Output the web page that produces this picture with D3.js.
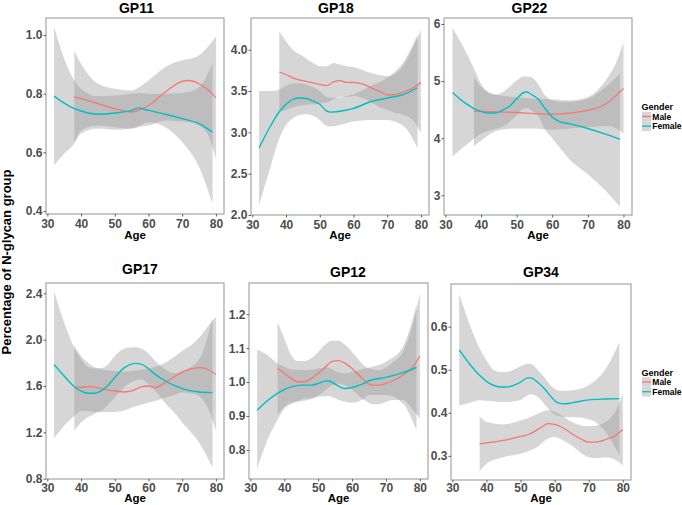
<!DOCTYPE html>
<html><head><meta charset="utf-8">
<script src="https://cdn.jsdelivr.net/npm/d3@7"></script>
<style>html,body{margin:0;padding:0;background:#fff;}svg{display:block;}</style>
</head><body>
<svg id="chart" width="682" height="505"></svg>
<script>
// ---------- data ----------
const xTicks = [30, 40, 50, 60, 70, 80];
const genders = ["Male", "Female"];
const panelTitles = ["GP11", "GP18", "GP22", "GP17", "GP12", "GP34"];

// GP11
const gp11MaleAge = [38,40,45,50,55,58,60,65,70,72,75,78,80];
const gp11Male    = [0.789,0.783,0.766,0.749,0.738,0.748,0.760,0.806,0.842,0.845,0.834,0.811,0.786];
const gp11MaleHi  = [0.945,0.902,0.834,0.817,0.811,0.828,0.845,0.891,0.914,0.918,0.931,0.965,0.995];
const gp11MaleLo  = [0.635,0.675,0.692,0.686,0.681,0.688,0.692,0.709,0.705,0.703,0.692,0.652,0.578];
const gp11FemAge  = [32,35,38,40,45,50,55,57,60,65,70,75,79];
const gp11Fem     = [0.792,0.768,0.749,0.741,0.730,0.734,0.743,0.751,0.743,0.730,0.715,0.698,0.669];
const gp11FemHi   = [1.027,0.919,0.845,0.817,0.791,0.794,0.800,0.802,0.800,0.800,0.802,0.823,0.905];
const gp11FemLo   = [0.556,0.595,0.630,0.664,0.681,0.677,0.681,0.690,0.703,0.686,0.635,0.550,0.425];
const gp11Ticks = [0.4, 0.6, 0.8, 1.0];
const gp11TickLabels = ["0.4", "0.6", "0.8", "1.0"];

// GP18
const gp18MaleAge = [38,40,42,45,48,50,52,54,56,58,60,63,65,68,70,72,75,78,80];
const gp18Male    = [3.73,3.70,3.66,3.625,3.60,3.58,3.565,3.61,3.625,3.605,3.605,3.58,3.545,3.49,3.455,3.455,3.49,3.545,3.605];
const gp18MaleHi  = [4.22,4.10,4.00,3.92,3.84,3.80,3.80,3.84,3.82,3.80,3.79,3.75,3.72,3.69,3.68,3.70,3.82,4.06,4.24];
const gp18MaleLo  = [3.25,3.27,3.30,3.33,3.34,3.35,3.36,3.40,3.43,3.43,3.44,3.41,3.37,3.30,3.27,3.24,3.21,3.13,2.99];
const gp18FemAge  = [32,35,38,40,42,44,46,48,50,52,53,55,58,60,65,70,75,79];
const gp18Fem     = [2.81,3.05,3.25,3.34,3.40,3.415,3.41,3.38,3.34,3.26,3.245,3.25,3.27,3.29,3.37,3.415,3.46,3.54];
const gp18FemHi   = [3.50,3.50,3.52,3.56,3.59,3.59,3.58,3.55,3.50,3.43,3.42,3.42,3.44,3.46,3.56,3.66,3.86,4.18];
const gp18FemLo   = [2.12,2.53,2.93,3.09,3.17,3.21,3.22,3.20,3.15,3.08,3.07,3.08,3.11,3.13,3.15,3.15,3.07,2.81];
const gp18Ticks = [2.0, 2.5, 3.0, 3.5, 4.0];
const gp18TickLabels = ["2.0", "2.5", "3.0", "3.5", "4.0"];

// GP22
const gp22MaleAge = [38,40,45,50,55,60,65,70,75,78,80];
const gp22Male    = [4.47,4.47,4.46,4.45,4.43,4.42,4.44,4.49,4.60,4.75,4.87];
const gp22MaleHi  = [5.07,4.90,4.75,4.72,4.69,4.68,4.66,4.72,5.01,5.33,5.67];
const gp22MaleLo  = [3.86,3.96,4.14,4.17,4.17,4.15,4.17,4.19,4.22,4.17,4.08];
const gp22FemAge  = [32,35,38,40,42,44,46,48,50,52,53,54,56,58,60,62,65,70,75,79];
const gp22Fem     = [4.80,4.64,4.52,4.47,4.44,4.44,4.49,4.56,4.69,4.80,4.81,4.77,4.69,4.52,4.37,4.29,4.25,4.17,4.07,3.98];
const gp22FemHi   = [5.93,5.60,5.22,4.95,4.80,4.76,4.80,4.90,5.01,5.08,5.08,5.07,4.95,4.75,4.66,4.64,4.64,4.69,4.90,5.13];
const gp22FemLo   = [3.68,3.84,3.99,4.08,4.13,4.16,4.20,4.28,4.40,4.52,4.53,4.49,4.40,4.15,4.00,3.84,3.62,3.37,3.08,2.80];
const gp22Ticks = [3, 4, 5, 6];
const gp22TickLabels = ["3", "4", "5", "6"];

// GP17
const gp17MaleAge = [38,40,43,46,50,53,55,58,60,62,65,68,70,73,75,78,80];
const gp17Male    = [1.586,1.589,1.594,1.577,1.557,1.548,1.557,1.594,1.600,1.586,1.629,1.686,1.720,1.749,1.758,1.738,1.700];
const gp17MaleHi  = [1.950,1.858,1.780,1.745,1.729,1.725,1.729,1.745,1.749,1.765,1.800,1.858,1.901,1.960,2.016,2.130,2.196];
const gp17MaleLo  = [1.213,1.285,1.345,1.375,1.376,1.390,1.414,1.440,1.457,1.470,1.500,1.525,1.543,1.535,1.514,1.385,1.213];
const gp17FemAge  = [32,35,38,40,42,44,46,48,50,52,54,56,58,60,62,65,68,70,75,79];
const gp17Fem     = [1.786,1.686,1.594,1.557,1.537,1.537,1.557,1.606,1.672,1.738,1.778,1.795,1.786,1.749,1.700,1.643,1.600,1.577,1.548,1.543];
const gp17FemHi   = [2.417,2.145,1.930,1.830,1.766,1.750,1.755,1.786,1.858,1.910,1.930,1.935,1.921,1.881,1.815,1.743,1.709,1.729,1.829,2.190];
const gp17FemLo   = [1.147,1.256,1.342,1.385,1.385,1.378,1.385,1.442,1.500,1.566,1.620,1.645,1.657,1.614,1.560,1.450,1.360,1.285,1.113,0.898];
const gp17Ticks = [0.8, 1.2, 1.6, 2.0, 2.4];
const gp17TickLabels = ["0.8", "1.2", "1.6", "2.0", "2.4"];

// GP12
const gp12MaleAge = [38,40,42,44,46,48,50,52,54,56,58,60,62,64,66,68,70,72,75,78,80];
const gp12Male    = [1.040,1.026,1.011,1.001,1.001,1.011,1.026,1.043,1.060,1.063,1.055,1.040,1.021,1.001,0.991,0.991,0.996,1.004,1.021,1.045,1.077];
const gp12MaleHi  = [1.178,1.129,1.080,1.062,1.062,1.070,1.089,1.110,1.122,1.122,1.109,1.089,1.065,1.045,1.038,1.035,1.043,1.058,1.089,1.173,1.262];
const gp12MaleLo  = [0.903,0.927,0.940,0.942,0.945,0.950,0.960,0.975,0.990,0.995,0.990,0.978,0.960,0.945,0.935,0.935,0.942,0.947,0.947,0.917,0.893];
const gp12FemAge  = [32,35,38,40,42,45,48,50,52,53,55,58,60,63,65,70,75,79];
const gp12Fem     = [0.917,0.945,0.967,0.978,0.986,0.991,0.991,0.996,1.003,1.004,0.994,0.981,0.984,0.994,1.004,1.014,1.028,1.043];
const gp12FemHi   = [1.096,1.080,1.055,1.045,1.038,1.035,1.037,1.040,1.043,1.042,1.033,1.026,1.030,1.038,1.043,1.060,1.104,1.227];
const gp12FemLo   = [0.745,0.829,0.888,0.922,0.935,0.949,0.953,0.957,0.958,0.959,0.952,0.942,0.939,0.948,0.962,0.962,0.937,0.858];
const gp12Ticks = [0.8, 0.9, 1.0, 1.1, 1.2];
const gp12TickLabels = ["0.8", "0.9", "1.0", "1.1", "1.2"];

// GP34
const gp34MaleAge = [38,40,45,50,53,55,57,58,60,62,65,68,70,72,75,78,80];
const gp34Male    = [0.328,0.330,0.336,0.345,0.352,0.361,0.371,0.375,0.373,0.367,0.352,0.338,0.332,0.332,0.338,0.348,0.361];
const gp34MaleHi  = [0.392,0.379,0.373,0.382,0.390,0.398,0.404,0.406,0.402,0.394,0.379,0.370,0.369,0.370,0.379,0.406,0.444];
const gp34MaleLo  = [0.265,0.282,0.297,0.305,0.313,0.321,0.335,0.340,0.344,0.338,0.324,0.305,0.297,0.295,0.297,0.290,0.278];
const gp34FemAge  = [32,35,38,40,42,44,46,48,50,52,53,55,57,59,61,63,65,70,75,79];
const gp34Fem     = [0.546,0.514,0.487,0.473,0.464,0.460,0.460,0.464,0.471,0.481,0.481,0.471,0.456,0.437,0.423,0.421,0.423,0.430,0.432,0.433];
const gp34FemHi   = [0.676,0.607,0.549,0.522,0.500,0.495,0.495,0.500,0.508,0.514,0.513,0.500,0.482,0.462,0.452,0.451,0.452,0.464,0.502,0.564];
const gp34FemLo   = [0.417,0.423,0.429,0.428,0.427,0.425,0.425,0.427,0.430,0.440,0.443,0.437,0.420,0.402,0.393,0.390,0.390,0.385,0.355,0.301];
const gp34Ticks = [0.3, 0.4, 0.5, 0.6];
const gp34TickLabels = ["0.3", "0.4", "0.5", "0.6"];

// ---------- helpers ----------
function series(age, mid, lo, hi) {
  return age.map((a, i) => ({ age: a, mid: mid[i], lo: lo[i], hi: hi[i] }));
}

const colors = { Male: "#F8766D", Female: "#00BFC4" };
const FONT = "'Liberation Sans', Arial, Helvetica, sans-serif";

const panels = [
  { title: panelTitles[0], male: series(gp11MaleAge, gp11Male, gp11MaleLo, gp11MaleHi), female: series(gp11FemAge, gp11Fem, gp11FemLo, gp11FemHi),
    ticks: gp11Ticks, labels: gp11TickLabels, yDomain: [0.39, 1.058], box: [46, 18, 224, 214], tx: 136.5, ty: 12.5, xPad: 2.5, ageY: 238.5, legend: false },
  { title: panelTitles[1], male: series(gp18MaleAge, gp18Male, gp18MaleLo, gp18MaleHi), female: series(gp18FemAge, gp18Fem, gp18FemLo, gp18FemHi),
    ticks: gp18Ticks, labels: gp18TickLabels, yDomain: [2.0, 4.384], box: [251, 18, 429, 215], tx: 336, ty: 12.5, xPad: 2.5, ageY: 238.5, legend: false },
  { title: panelTitles[2], male: series(gp22MaleAge, gp22Male, gp22MaleLo, gp22MaleHi), female: series(gp22FemAge, gp22Fem, gp22FemLo, gp22FemHi),
    ticks: gp22Ticks, labels: gp22TickLabels, yDomain: [2.655, 6.105], box: [444, 18, 632, 215], tx: 529.5, ty: 12.5, xPad: 2.5, ageY: 238.5, legend: true },
  { title: panelTitles[3], male: series(gp17MaleAge, gp17Male, gp17MaleLo, gp17MaleHi), female: series(gp17FemAge, gp17Fem, gp17FemLo, gp17FemHi),
    ticks: gp17Ticks, labels: gp17TickLabels, yDomain: [0.797, 2.489], box: [46, 283, 224, 479], tx: 140, ty: 273.5, xPad: 1.5, ageY: 502.3, legend: false },
  { title: panelTitles[4], male: series(gp12MaleAge, gp12Male, gp12MaleLo, gp12MaleHi), female: series(gp12FemAge, gp12Fem, gp12FemLo, gp12FemHi),
    ticks: gp12Ticks, labels: gp12TickLabels, yDomain: [0.7145, 1.292], box: [249, 283, 428, 479], tx: 348, ty: 276.5, xPad: 1.5, ageY: 502.3, legend: false },
  { title: panelTitles[5], male: series(gp34MaleAge, gp34Male, gp34MaleLo, gp34MaleHi), female: series(gp34FemAge, gp34Fem, gp34FemLo, gp34FemHi),
    ticks: gp34Ticks, labels: gp34TickLabels, yDomain: [0.244, 0.699], box: [451, 284, 631, 480], tx: 541, ty: 276.5, xPad: 0.8, ageY: 502.3, legend: true }
];

const svg = d3.select("#chart");
svg.append("rect").attr("width", 682).attr("height", 505).attr("fill", "#fff");

panels.forEach((p, pi) => {
  const [x0, y0, x1, y1] = p.box;
  const x = d3.scaleLinear().domain([29.6, 82.4]).range([x0, x1]);
  const y = d3.scaleLinear().domain(p.yDomain).range([y1, y0]);
  const g = svg.append("g");

  const clipId = "clip" + pi;
  g.append("clipPath").attr("id", clipId).append("rect")
    .attr("x", x0).attr("y", y0).attr("width", x1 - x0).attr("height", y1 - y0);

  const plot = g.append("g").attr("clip-path", `url(#${clipId})`);
  const area = d3.area().x(d => x(d.age)).y0(d => y(d.lo)).y1(d => y(d.hi)).curve(d3.curveMonotoneX);
  const line = d3.line().x(d => x(d.age)).y(d => y(d.mid)).curve(d3.curveMonotoneX);

  [p.male, p.female].forEach(s => {
    plot.append("path").attr("d", area(s)).attr("fill", "#999999").attr("fill-opacity", 0.4);
  });
  plot.append("path").attr("d", line(p.male)).attr("fill", "none").attr("stroke", colors.Male).attr("stroke-width", 1.3);
  plot.append("path").attr("d", line(p.female)).attr("fill", "none").attr("stroke", colors.Female).attr("stroke-width", 1.4);

  // panel border
  g.append("rect").attr("x", x0).attr("y", y0).attr("width", x1 - x0).attr("height", y1 - y0)
    .attr("fill", "none").attr("stroke", "#a6a6a6").attr("stroke-width", 1.2);

  // axes
  const yAxis = d3.axisLeft(y).tickValues(p.ticks).tickFormat((d, i) => p.labels[i]).tickSize(2.5).tickPadding(1);
  const ya = g.append("g").attr("transform", `translate(${x0},0)`).call(yAxis);
  const xAxis = d3.axisBottom(x).tickValues(xTicks).tickFormat(d3.format("d")).tickSize(2.5).tickPadding(p.xPad);
  const xa = g.append("g").attr("transform", `translate(0,${y1})`).call(xAxis);
  [ya, xa].forEach(a => {
    a.select(".domain").remove();
    a.selectAll(".tick line").attr("stroke", "#4d4d4d").attr("stroke-width", 0.9);
    a.selectAll(".tick text").attr("fill", "#4d4d4d").style("font-family", FONT)
      .style("font-size", "12px").style("font-weight", "bold");
  });

  // title
  g.append("text").attr("x", p.tx).attr("y", p.ty).attr("text-anchor", "middle")
    .style("font-family", FONT).style("font-size", "14px").style("font-weight", "bold").attr("fill", "#000")
    .text(p.title);

  // x-axis title
  g.append("text").attr("x", (x0 + x1) / 2).attr("y", p.ageY).attr("text-anchor", "middle")
    .style("font-family", FONT).style("font-size", "11.5px").style("font-weight", "bold").attr("fill", "#000")
    .text("Age");

  // legend
  if (p.legend) {
    const cy = (y0 + y1) / 2;
    const lg = svg.append("g");
    lg.append("text").attr("x", 641.5).attr("y", cy - 9.5 + 3.3)
      .style("font-family", FONT).style("font-size", "9px").style("font-weight", "bold").attr("fill", "#000")
      .text("Gender");
    genders.forEach((gname, i) => {
      const ky = cy + i * 9.7;
      lg.append("rect").attr("x", 642).attr("y", ky - 4.8).attr("width", 9).attr("height", 9.6)
        .attr("fill", "#999999").attr("fill-opacity", 0.4);
      lg.append("line").attr("x1", 642).attr("x2", 651).attr("y1", ky).attr("y2", ky)
        .attr("stroke", colors[gname]).attr("stroke-width", 1.3);
      lg.append("text").attr("x", 652.3).attr("y", ky + 3.2)
        .style("font-family", FONT).style("font-size", "8.5px").style("font-weight", "bold").attr("fill", "#000")
        .text(gname);
    });
  }
});

// shared y-axis title
svg.append("text").attr("transform", "translate(11,262) rotate(-90)").attr("text-anchor", "middle")
  .style("font-family", FONT).style("font-size", "13px").style("font-weight", "bold").attr("fill", "#000")
  .text("Percentage of N-glycan group");
</script>
</body></html>
